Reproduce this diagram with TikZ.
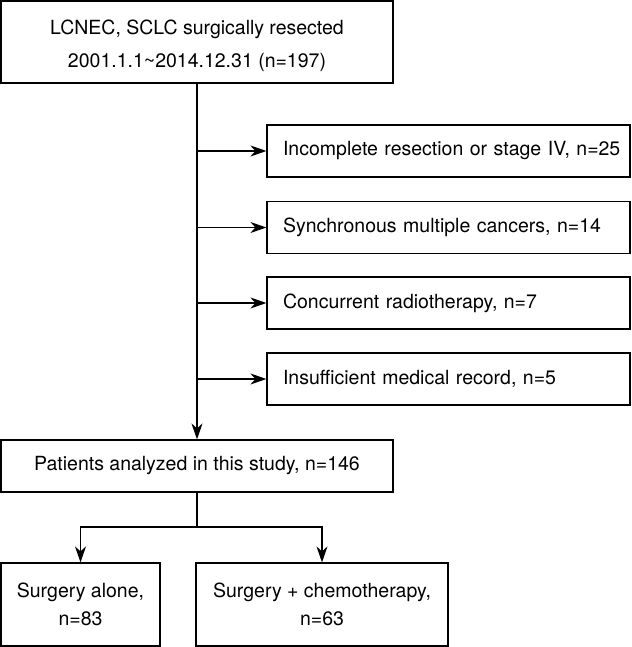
\documentclass[tikz,border=0pt]{standalone}
\usepackage{fontspec}
\setmainfont{TeX Gyre Heros}
\usetikzlibrary{arrows.meta}
\newcommand{\lpad}[1]{\hspace*{16pt}#1}
\begin{document}
\begin{tikzpicture}[x=1pt,y=-1pt,
  box/.style={draw, line width=1.2pt, inner sep=0pt, font=\fontsize{19.5}{33}\selectfont, align=center},
  lbox/.style={draw, line width=1.2pt, inner sep=0pt, font=\fontsize{19.5}{32}\selectfont, align=left, text width=363pt, minimum width=363pt, minimum height=52pt},
  conn/.style={line width=1.2pt},
  arr/.style={line width=1.2pt, -{Stealth[length=16pt,width=11pt,inset=5pt]}}]
\useasboundingbox (0,0) rectangle (631,647);
\node[box, minimum width=392pt, minimum height=82pt] (top) at (197,42) {};
\node[inner sep=0pt, font=\fontsize{19.5}{33}\selectfont, align=center] (toptext) at (197,46) {LCNEC, SCLC surgically resected\\2001.1.1\textasciitilde2014.12.31 (n=197)};
\node[lbox] (r1) at (448.5,151) {\lpad{Incomplete resection or stage IV, n=25}};
\node[lbox] (r2) at (448.5,227.5) {\lpad{Synchronous multiple cancers, n=14}};
\node[lbox] (r3) at (448.5,303) {\lpad{Concurrent radiotherapy, n=7}};
\node[lbox] (r4) at (448.5,379) {\lpad{Insufficient medical record, n=5}};
\node[box, minimum width=392pt, minimum height=52pt] (pat) at (197,466) {Patients analyzed in this study, n=146};
\node[box, minimum width=159pt, minimum height=83pt, font=\fontsize{19.5}{28}\selectfont] (sa) at (80.5,604.5) {Surgery alone,\\n=83};
\node[box, minimum width=252pt, minimum height=83pt, font=\fontsize{19.5}{28}\selectfont] (sc) at (322,604.5) {Surgery + chemotherapy,\\n=63};
\coordinate (j) at (197,527);
\draw[arr] (top.south) -- (pat.north);
\foreach \n in {r1,r2,r3,r4} {\draw[arr] (top.south |- \n.west) -- (\n.west);}
\draw[conn] (pat.south) -- (j);
\draw[arr] (j) -| (sa.north);
\draw[arr] (j) -| (sc.north);
\end{tikzpicture}
\end{document}
